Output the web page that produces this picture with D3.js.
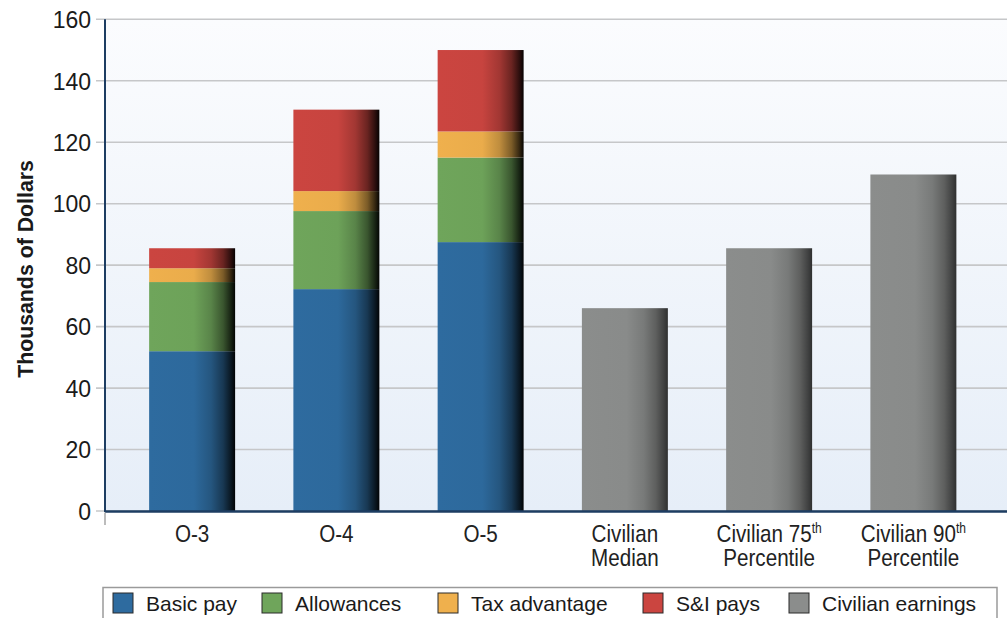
<!DOCTYPE html>
<html>
<head>
<meta charset="utf-8">
<script src="https://cdn.jsdelivr.net/npm/d3@7"></script>
<style>
  html, body { margin: 0; padding: 0; background: #ffffff; }
  svg { display: block; }
</style>
</head>
<body>
<svg id="chart" width="1007" height="618"></svg>
<script>
// Annual compensation by officer grade vs. civilian earnings (thousands of dollars)
const categories = ["O-3", "O-4", "O-5", "Civilian Median", "Civilian 75th Percentile", "Civilian 90th Percentile"];
const militaryGrades = ["O-3", "O-4", "O-5"];
const basicPay = [52, 72.2, 87.5];
const allowances = [22.5, 25.4, 27.5];
const taxAdvantage = [4.5, 6.5, 8.5];
const siPays = [6.5, 26.5, 26.5];
const civilianGroups = ["Civilian Median", "Civilian 75th Percentile", "Civilian 90th Percentile"];
const civilianEarnings = [66, 85.5, 109.5];
const yTicks = [0, 20, 40, 60, 80, 100, 120, 140, 160];
// Axis label lines; "|" separates a trailing superscript
const xLabelLines = [["O-3"], ["O-4"], ["O-5"], ["Civilian", "Median"], ["Civilian 75|th", "Percentile"], ["Civilian 90|th", "Percentile"]];
const seriesNames = ["Basic pay", "Allowances", "Tax advantage", "S&I pays", "Civilian earnings"];
const seriesColors = ["#2e6b9f", "#6fa55b", "#efb04d", "#cb4540", "#8b8d8c"];

const svg = d3.select("#chart");
const plot = { left: 105, right: 1007, top: 19.3, bottom: 511 };

const x = d3.scaleBand()
  .domain(categories)
  .range([120, 985.5])
  .paddingInner(0.404)
  .paddingOuter(0.202);

const y = d3.scaleLinear()
  .domain([0, 160])
  .range([plot.bottom, plot.top]);

const defs = svg.append("defs");

// Plot background: pale blue wash, lighter at the top
const bg = defs.append("linearGradient")
  .attr("id", "plotBg").attr("x1", 0).attr("y1", 0).attr("x2", 0).attr("y2", 1);
bg.append("stop").attr("offset", "0%").attr("stop-color", "#fbfcfe");
bg.append("stop").attr("offset", "100%").attr("stop-color", "#e6eef8");

// Bar shading: flat colour that falls off to near-black on the right edge
function shade(id, color, depth) {
  const g = defs.append("linearGradient")
    .attr("id", id).attr("x1", 0).attr("y1", 0).attr("x2", 1).attr("y2", 0);
  const mix = t => d3.interpolateRgb(color, "#000")(t * depth);
  [[0, 0], [0.52, 0.02], [0.72, 0.2], [0.86, 0.48], [0.95, 0.78], [1, 0.97]]
    .forEach(([o, t]) => g.append("stop").attr("offset", o).attr("stop-color", mix(t)));
}
seriesColors.forEach((c, i) => shade("bar" + i, c, i === 4 ? 0.68 : 1));

svg.append("rect")
  .attr("x", plot.left).attr("y", plot.top)
  .attr("width", plot.right - plot.left).attr("height", plot.bottom - plot.top)
  .attr("fill", "url(#plotBg)");

// Gridlines (extend left of the axis as tick marks)
svg.append("g").selectAll("line")
  .data(yTicks)
  .join("line")
  .attr("x1", 96).attr("x2", plot.right)
  .attr("y1", d => y(d)).attr("y2", d => y(d))
  .attr("stroke", "#c6c7c9").attr("stroke-width", 1.6);

// Stacked military compensation
const stackRows = militaryGrades.map((g, i) => ({
  grade: g, basic: basicPay[i], allow: allowances[i], tax: taxAdvantage[i], si: siPays[i]
}));
const stack = d3.stack().keys(["basic", "allow", "tax", "si"])(stackRows);

svg.append("g").selectAll("g")
  .data(stack)
  .join("g")
  .attr("fill", (d, i) => `url(#bar${i})`)
  .selectAll("rect")
  .data(d => d)
  .join("rect")
  .attr("x", d => x(d.data.grade))
  .attr("width", x.bandwidth())
  .attr("y", d => y(d[1]))
  .attr("height", d => y(d[0]) - y(d[1]));

// Civilian earnings
svg.append("g").selectAll("rect")
  .data(civilianGroups.map((g, i) => ({ group: g, value: civilianEarnings[i] })))
  .join("rect")
  .attr("x", d => x(d.group))
  .attr("width", x.bandwidth())
  .attr("y", d => y(d.value))
  .attr("height", d => y(0) - y(d.value))
  .attr("fill", "url(#bar4)");

// Axis lines
svg.append("line")
  .attr("x1", plot.left).attr("x2", plot.left)
  .attr("y1", plot.top).attr("y2", plot.bottom + 1)
  .attr("stroke", "#1d3d62").attr("stroke-width", 2);
svg.append("line")
  .attr("x1", plot.left).attr("x2", plot.right)
  .attr("y1", plot.bottom + 0.5).attr("y2", plot.bottom + 0.5)
  .attr("stroke", "#1d3d62").attr("stroke-width", 2.4);
svg.append("line")
  .attr("x1", plot.left).attr("x2", plot.left)
  .attr("y1", plot.bottom + 1.5).attr("y2", 525)
  .attr("stroke", "#a0a0a0").attr("stroke-width", 1.4);

// Y tick labels
const yAxis = svg.append("g")
  .attr("transform", `translate(${plot.left},0)`)
  .call(d3.axisLeft(y).tickValues(yTicks).tickSize(0).tickPadding(14).tickFormat(d3.format("d")));
yAxis.select(".domain").remove();
yAxis.selectAll("text")
  .attr("font-family", "'Liberation Sans', Arial, sans-serif")
  .attr("font-size", 23)
  .attr("fill", "#1a1a1a")
  .attr("dy", "0.36em");

// Y axis title
svg.append("text")
  .attr("transform", "translate(33,269) rotate(-90)")
  .attr("text-anchor", "middle")
  .attr("font-family", "'Liberation Sans', Arial, sans-serif")
  .attr("font-weight", "bold")
  .attr("font-size", 21.3)
  .attr("fill", "#1a1a1a")
  .text("Thousands of Dollars");

// X category labels, set in a horizontally condensed face
const xLab = svg.append("g").selectAll("g")
  .data(categories)
  .join("g")
  .attr("transform", c => `translate(${x(c) + x.bandwidth() / 2},0) scale(0.86,1)`)
  .append("text")
  .attr("text-anchor", "middle")
  .attr("font-family", "'Liberation Sans', Arial, sans-serif")
  .attr("font-size", 24)
  .attr("fill", "#222");
xLab.each(function (c, i) {
  const t = d3.select(this);
  xLabelLines[i].forEach((line, j) => {
    const [main, sup] = line.split("|");
    t.append("tspan").attr("x", 0).attr("y", 542.5 + j * 24).text(main);
    if (sup) {
      t.append("tspan").attr("font-size", 14).attr("dy", -9).text(sup);
    }
  });
});

// Legend
const legend = svg.append("g");
legend.append("rect")
  .attr("x", 103).attr("y", 587.5).attr("width", 894).attr("height", 45)
  .attr("fill", "#fff").attr("stroke", "#9a9a9a").attr("stroke-width", 1.5);
const legendX = [113, 262, 438, 643, 789];
const li = legend.selectAll("g.item")
  .data(seriesNames)
  .join("g")
  .attr("class", "item")
  .attr("transform", (d, i) => `translate(${legendX[i]},593)`);
li.append("rect")
  .attr("width", 20).attr("height", 20)
  .attr("fill", (d, i) => seriesColors[i])
  .attr("stroke", "#2a2a2a").attr("stroke-width", 1);
li.append("text")
  .attr("x", 33).attr("y", 17.7)
  .attr("font-family", "'Liberation Sans', Arial, sans-serif")
  .attr("font-size", 21)
  .attr("fill", "#1a1a1a")
  .text(d => d);
</script>
</body>
</html>
